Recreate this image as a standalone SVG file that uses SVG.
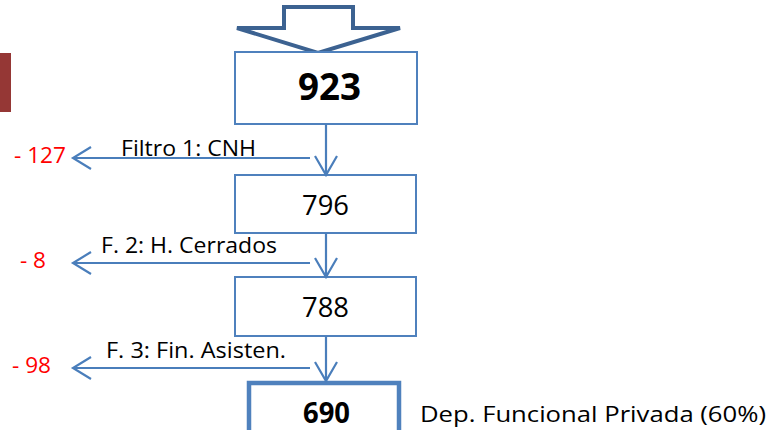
<svg xmlns="http://www.w3.org/2000/svg" width="768" height="430" viewBox="0 0 768 430">
<style>
.box{fill:#fff;stroke:#4f81bd;stroke-width:2}
.con{fill:none;stroke:#4a7ebb;stroke-width:2.2}
.lbl{font-family:"Open Sans","Liberation Sans",Arial,sans-serif;font-size:22px;fill:#000}
.red{font-family:"Open Sans","Liberation Sans",Arial,sans-serif;font-size:22px;fill:#ff0000}
.num{font-family:"Open Sans","Liberation Sans",Arial,sans-serif;font-size:28px;fill:#000}
.big{font-family:"Open Sans","Liberation Sans",Arial,sans-serif;font-weight:bold;fill:#000}
</style>
<rect x="0" y="53" width="11" height="59" fill="#953735"/>
<g id="entry">
<polygon points="284,7 353,7 353,28 400,28 318,53 237,28 284,28" fill="#fff" stroke="#3c6291" stroke-width="4" stroke-linejoin="miter"/>
</g>
<g id="n923">
<rect class="box" x="235" y="52" width="182" height="72"/>
<text class="big" x="298" y="100" font-size="38" textLength="63" lengthAdjust="spacingAndGlyphs">923</text>
</g>
<g id="n796">
<rect class="box" x="235" y="175" width="181" height="58"/>
<text class="num" x="302" y="215" textLength="47" lengthAdjust="spacingAndGlyphs">796</text>
</g>
<g id="n788">
<rect class="box" x="235" y="277" width="181" height="59"/>
<text class="num" x="302" y="317" textLength="47" lengthAdjust="spacingAndGlyphs">788</text>
</g>
<g id="n690">
<rect x="249" y="383" width="150" height="60" fill="#fff" stroke="#4f81bd" stroke-width="4.5"/>
<text class="big" x="303" y="423" font-size="28" textLength="47" lengthAdjust="spacingAndGlyphs">690</text>
<text class="lbl" x="420" y="422" font-size="23" textLength="346" lengthAdjust="spacingAndGlyphs">Dep. Funcional Privada (60%)</text>
</g>
<g id="connectors">
<path class="con" d="M326,124 V175 M315,156 L326,175 L337,156"/>
<path class="con" d="M326,233 V277 M315,258 L326,277 L337,258"/>
<path class="con" d="M326,336 V381 M315,362 L326,381 L337,362"/>
<path class="con" d="M310,158 H73 M91,147 L73,158 L91,169"/>
<path class="con" d="M310,263 H73 M91,252 L73,263 L91,274"/>
<path class="con" d="M310,368 H73 M91,357 L73,368 L91,379"/>
</g>
<g id="labels">
<text class="lbl" x="121" y="156" textLength="135" lengthAdjust="spacingAndGlyphs">Filtro 1: CNH</text>
<text class="lbl" x="101" y="253" textLength="176" lengthAdjust="spacingAndGlyphs">F. 2: H. Cerrados</text>
<text class="lbl" x="106" y="358" textLength="180" lengthAdjust="spacingAndGlyphs">F. 3: Fin. Asisten.</text>
<text class="red" x="14" y="163" textLength="52" lengthAdjust="spacingAndGlyphs">- 127</text>
<text class="red" x="20" y="268" textLength="26" lengthAdjust="spacingAndGlyphs">- 8</text>
<text class="red" x="12" y="373" textLength="39" lengthAdjust="spacingAndGlyphs">- 98</text>
</g>
</svg>
